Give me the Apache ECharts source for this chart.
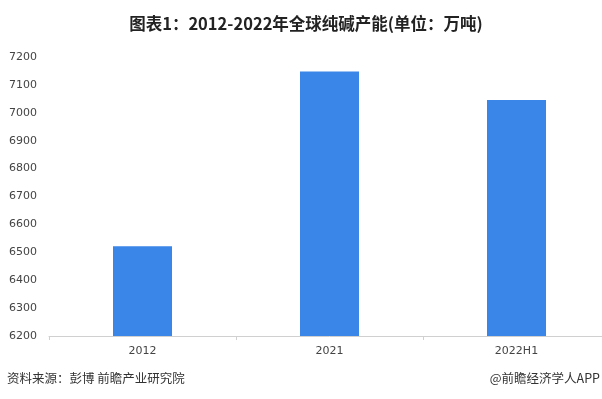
<!DOCTYPE html>
<html><head><meta charset="utf-8">
<script src="https://cdn.jsdelivr.net/npm/echarts@6/dist/echarts.min.js"></script>
<style>html,body{margin:0;padding:0;background:#fff;overflow:hidden;width:602px;height:399px}#c{width:620px;height:399px}</style>
</head><body><div id="c"></div>
<script>
var categories = ['2012', '2021', '2022H1'];
var capacity = [6522, 7148, 7046];
var yTicks = {min: 6200, max: 7200, interval: 100};

var chart = echarts.init(document.getElementById('c'), null, {renderer: 'canvas'});
chart.setOption({
  animation: false,
  backgroundColor: '#fff',
  title: {
    text: '图表1：2012-2022年全球纯碱产能(单位：万吨)',
    left: 301, top: 10, textAlign: 'center',
    textStyle: {fontSize: 16.5, fontWeight: 'bold', color: '#222', fontFamily: 'Noto Sans CJK SC'}
  },
  graphic: [
    {type: 'text', x: 7, y: 372, style: {text: '资料来源：彭博 前瞻产业研究院', fontSize: 12.5, fill: '#333', fontFamily: 'Noto Sans CJK SC'}},
    {type: 'text', x: 600, y: 372, style: {text: '@前瞻经济学人APP', align: 'right', fontSize: 12.5, fill: '#333', fontFamily: 'Noto Sans CJK SC'}}
  ],
  grid: {left: 49, top: 57, width: 561, bottom: 63, containLabel: false},
  xAxis: {
    type: 'category', data: categories,
    axisLine: {lineStyle: {color: '#d0d0d0'}},
    axisTick: {show: true, length: 4, lineStyle: {color: '#d0d0d0'}},
    axisLabel: {color: '#444', fontSize: 11, margin: 10, fontFamily: 'DejaVu Sans'}
  },
  yAxis: {
    type: 'value', min: yTicks.min, max: yTicks.max, interval: yTicks.interval,
    splitLine: {show: false}, axisLine: {show: false}, axisTick: {show: false},
    axisLabel: {color: '#444', fontSize: 11, margin: 12, fontFamily: 'DejaVu Sans',
      formatter: function (v) { return String(v); }}
  },
  series: [{
    type: 'bar', data: capacity, barWidth: 59,
    itemStyle: {color: '#3A85E8'}
  }]
});
</script></body></html>
